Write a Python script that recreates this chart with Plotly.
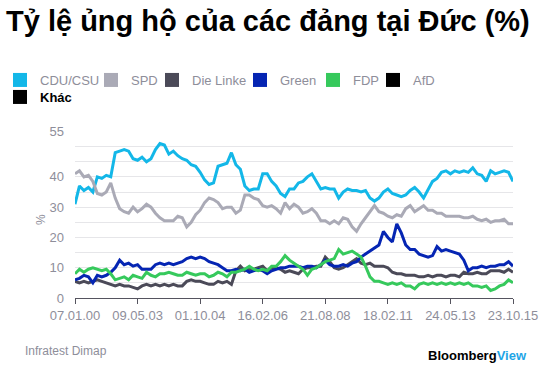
import plotly.graph_objects as go

# ---- data (one value per poll step) ----
tick_labels = ["07.01.00", "09.05.03", "01.10.04", "16.02.06",
               "21.08.08", "18.02.11", "24.05.13", "23.10.15"]

cdu_csu = [31, 37, 35.5, 36.5, 35, 40, 39.5, 40.5, 40, 48, 48.5, 49, 48.5, 46, 45.5, 46.5, 45, 46, 49, 51,
           50.5, 47.5, 48.5, 47, 46, 45.5, 44, 43.5, 41.5, 39, 37.5, 38, 43.5, 44, 44.5, 48, 44, 42.5, 37, 35.5,
           36, 36, 41, 41, 38.5, 37, 34.5, 33.5, 36, 36, 38, 38.5, 40, 41, 38.5, 36, 36.5, 36, 36, 33,
           35, 36, 35.5, 35.5, 35, 35.5, 33, 32, 33, 35, 36, 34.5, 34, 33.5, 34, 35.5, 36.5, 35, 33, 36,
           38.5, 39.5, 41.5, 42, 41, 42, 41.5, 42, 41.5, 43, 41, 40.5, 38.5, 42, 41, 41.5, 42, 41.5, 38.5]

spd = [41, 42, 40, 40.5, 38.5, 34.5, 34, 35, 38, 33, 29.5, 28.5, 28, 30, 28.5, 29.5, 31, 30, 28, 26.5,
       25.5, 25.5, 25.5, 27, 26.5, 23.5, 25, 27.5, 29, 31.5, 33, 32.5, 31.5, 29.5, 30, 30, 28, 29, 34, 34,
       33, 32.5, 30.5, 30, 30.5, 29.5, 28, 31.5, 29.5, 31, 30, 28, 28.5, 29.5, 28, 25.5, 25.5, 24.5, 25.5, 24.5,
       26.5, 26, 23.5, 22, 24.5, 26.5, 28.5, 30.5, 28.5, 28, 27, 26.5, 27.5, 27, 29.5, 30.5, 28.5, 29.5, 30.5, 29,
       29, 28, 28, 27, 27, 27, 27, 26.5, 26.5, 27, 26, 25.5, 26, 25, 25.5, 25.5, 26, 24.5, 24.5]

die_linke = [5.5, 5, 5.5, 5, 5.5, 6, 5.5, 5, 4.5, 4, 4.5, 4, 4, 3.5, 3, 4, 4.5, 4, 4.5, 4,
             4.5, 4, 4.5, 4, 4, 5.5, 6, 5.5, 5.5, 5, 4.5, 4.5, 5.5, 5, 5.5, 4.5, 9, 10.5, 9, 9.5,
             9.5, 10, 10.5, 9, 10, 10, 9.5, 8.5, 9, 8.5, 8, 9.5, 10, 10, 10.5, 10.5, 13.5, 12, 10, 9.5,
             10, 11, 12, 13, 11.5, 11, 11.5, 10.5, 10.5, 10.5, 10, 8.5, 8, 8, 7.5, 7.5, 7.5, 7, 7, 7.5,
             7, 7.5, 7.5, 7, 7.5, 7.5, 7, 8.5, 8, 8, 8.5, 8, 8, 9, 9, 9, 8.5, 9.5, 8.5]

green = [6, 6.5, 7.5, 7, 5, 7.5, 7, 7.5, 8.5, 10, 12.5, 11, 11.5, 10.5, 11, 9.5, 9.5, 9.5, 11, 11.5,
         11, 11.5, 11, 11.5, 12, 13, 13.5, 13, 13.5, 13, 12, 11.5, 11, 10, 9, 9, 9.5, 9, 9.5, 8.5,
         9, 9.5, 9, 8, 9, 9.5, 10, 10, 10.5, 10.5, 10.5, 10, 10.5, 10.5, 10, 11, 12.5, 11, 10.5, 10.5,
         11, 10.5, 11.5, 12, 13.5, 14.5, 15.5, 16.5, 17.5, 22, 20, 18.5, 24.5, 21.5, 17.5, 16, 16, 14.5, 14, 13.5,
         14, 17, 15.5, 16, 15.5, 15, 14.5, 12.5, 9, 10, 10, 10.5, 10, 10.5, 10.5, 11, 11, 12, 10.5]

fdp = [8, 9.5, 8.5, 9.5, 10, 9.5, 9, 9.5, 8, 6, 6.5, 7, 6, 7.5, 7, 6.5, 8.5, 7.5, 7, 8,
       8, 8.5, 8, 7.5, 7.5, 8.5, 8, 7.5, 8, 8, 7, 7.5, 8.5, 8, 7, 8.5, 8.5, 9, 9.5, 10.5,
       9.5, 9, 9.5, 9, 10.5, 10.5, 12, 14, 12.5, 11.5, 10.5, 9.5, 7.5, 9.5, 10, 11, 12, 12.5, 13, 16,
       14.5, 15, 15.5, 14.5, 13.5, 10.5, 7, 5.5, 5.5, 5, 4.5, 5, 4.5, 5, 4, 4, 3, 4.5, 5, 4.5,
       5, 4.5, 5, 4.5, 5, 4.5, 5, 4.5, 5, 4, 4, 3.5, 4, 2.5, 3, 4, 4.5, 6, 5]

afd = []
khac = []

series_names = ["CDU/CSU", "SPD", "Die Linke", "Green", "FDP", "AfD", "Khác"]
series_values = [cdu_csu, spd, die_linke, green, fdp, afd, khac]
series_colors = ["#13b7e8", "#aaaab6", "#4b4a58", "#0525b3", "#36c95c", "#000000", "#000000"]

y_tick_vals = [0, 5, 10, 15, 20, 25, 30, 35, 40, 45, 50, 55]
y_tick_text = ["0", "", "10", "", "20", "", "30", "", "40", "", "", "55"]

# ---- figure ----
W, H = 557, 391
L, R, T, B = 75, 44, 127, 93
PW, PH = W - L - R, H - T - B
GRAY_TXT = "#8e8e9a"
FONT = "Liberation Sans, Arial, sans-serif"


def px_x(px):
    return (px - L) / PW


def px_y(py):
    return (H - B - py) / PH


n = len(cdu_csu)
idx = list(range(n))
step = (n - 1) // (len(tick_labels) - 1)
x_ticks = [i * step for i in range(len(tick_labels))]

fig = go.Figure()
for name, vals, col in zip(series_names, series_values, series_colors):
    if vals:
        fig.add_trace(go.Scatter(x=idx[:len(vals)], y=vals, mode="lines", name=name,
                                 line=dict(color=col, width=3), showlegend=False,
                                 hoverinfo="skip"))

# legend entries: one small legend per item, placed like the reference
legend_pos = [(20, 65), (111, 65), (172, 65), (260, 65), (333, 65), (393, 65), (20, 82)]
legend_layouts = {}
for k, (name, col) in enumerate(zip(series_names, series_colors)):
    is_last = name == "Khác"
    lname = "legend" if k == 0 else "legend%d" % (k + 1)
    fig.add_trace(go.Scatter(
        x=[None], y=[None], mode="markers",
        name=("<b>%s</b>" % name) if is_last else name,
        marker=dict(symbol="square", size=14, color=col, line=dict(width=0)),
        legend=lname, showlegend=True))
    lx, ly = legend_pos[k]
    legend_layouts[lname] = dict(
        orientation="h", xref="container", yref="container",
        x=(lx - 20) / W, xanchor="left", y=1 - ly / H, yanchor="top",
        font=dict(family=FONT, size=13, color="#000000" if is_last else GRAY_TXT),
        itemwidth=30, bgcolor="rgba(0,0,0,0)")

fig.update_layout(
    width=W, height=H,
    margin=dict(l=L, r=R, t=T, b=B),
    paper_bgcolor="white", plot_bgcolor="white",
    font=dict(family=FONT, size=13, color=GRAY_TXT),
    title=dict(text="<b>Tỷ lệ ủng hộ của các đảng tại Đức (%)</b>",
               x=6 / W, xanchor="left", xref="container",
               y=1 - 21 / H, yanchor="middle", yref="container",
               pad=dict(l=0, r=0, t=0, b=0),
               font=dict(family=FONT, size=29, color="#000000")),
    xaxis=dict(range=[0, n - 1], tickvals=x_ticks, ticktext=tick_labels,
               showgrid=False, zeroline=False, showline=True, linecolor="#55545f",
               linewidth=1, ticks="outside", ticklen=5, tickcolor="#55545f",
               tickfont=dict(size=13, color=GRAY_TXT)),
    yaxis=dict(range=[0, 55], tickvals=y_tick_vals, ticktext=y_tick_text,
               showgrid=True, gridcolor="#e6e6e9", gridwidth=1, zeroline=False,
               showline=False, ticks="", ticklabelstandoff=10,
               tickfont=dict(size=13, color=GRAY_TXT)),
    annotations=[
        dict(text="%", xref="paper", yref="paper", x=px_x(32), y=px_y(218),
             showarrow=False, textangle=-90, font=dict(size=12, color=GRAY_TXT)),
        dict(text="Infratest Dimap", xref="paper", yref="paper",
             x=px_x(23), y=px_y(352), xanchor="left", yanchor="middle",
             showarrow=False, font=dict(size=12, color=GRAY_TXT)),
        dict(text="<b><span style='color:#000000'>Bloomberg</span><span style='color:#1ea5e6'>View</span></b>",
             xref="paper", yref="paper",
             x=px_x(529), y=px_y(357), xanchor="right", yanchor="middle",
             showarrow=False, font=dict(size=13)),
    ],
    **legend_layouts,
)

fig.write_html("out.html", config={"displayModeBar": False},
               post_script="document.body.style.margin='0px';")
